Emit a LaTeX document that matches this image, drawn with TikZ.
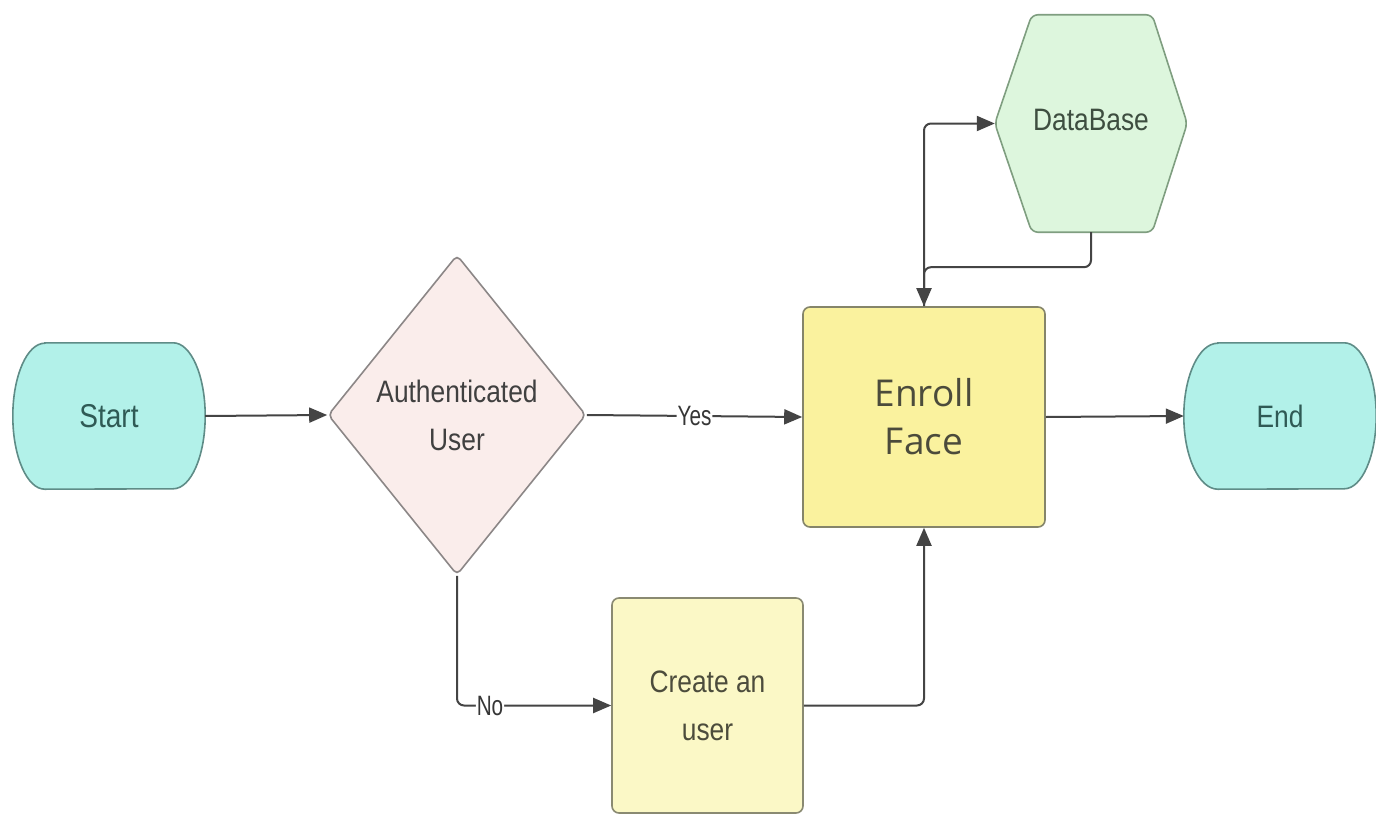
\documentclass[tikz,border=0pt]{standalone}
\usepackage{fontspec}
\usetikzlibrary{shapes.geometric,arrows.meta,backgrounds}
\newfontfamily\narrowsans[FakeStretch=0.85]{Liberation Sans}
\newfontfamily\labelsans[FakeStretch=0.74]{Liberation Sans}
\newfontfamily\widesans{Open Sans}
\definecolor{termfill}{HTML}{B2F1E9}
\definecolor{termdraw}{HTML}{5F8C87}
\definecolor{termtext}{HTML}{2F5A55}
\definecolor{decfill}{HTML}{FAEDEB}
\definecolor{decdraw}{HTML}{8C8787}
\definecolor{dectext}{HTML}{404040}
\definecolor{enrfill}{HTML}{FAF29E}
\definecolor{enrdraw}{HTML}{85856A}
\definecolor{enrtext}{HTML}{4B4B3B}
\definecolor{crefill}{HTML}{FBF8C6}
\definecolor{credraw}{HTML}{8A8A72}
\definecolor{cretext}{HTML}{4C4C3C}
\definecolor{dbfill}{HTML}{DDF6DD}
\definecolor{dbdraw}{HTML}{7F9E80}
\definecolor{dbtext}{HTML}{3E4E40}
\definecolor{linecol}{HTML}{444444}
\tikzset{
  termbox/.style={rectangle, minimum width=192pt, minimum height=146pt, inner sep=0pt,
    text=termtext, font=\narrowsans\fontsize{33}{48}\selectfont},
  termshape/.style={fill=termfill, draw=termdraw, line width=1.6pt},
  decbox/.style={diamond, fill=decfill, draw=decdraw, line width=1.6pt, rounded corners=5pt, inner sep=0pt,
    minimum width=258pt, minimum height=320pt, align=center, text=dectext, font=\narrowsans\fontsize{31}{48}\selectfont},
  enrbox/.style={rectangle, rounded corners=7pt, fill=enrfill, draw=enrdraw, line width=1.6pt,
    minimum width=242pt, minimum height=220pt, align=center, text=enrtext, font=\widesans\fontsize{37}{48}\selectfont},
  crebox/.style={rectangle, rounded corners=7pt, fill=crefill, draw=credraw, line width=1.6pt,
    minimum width=191pt, minimum height=215pt, align=center, text=cretext, font=\narrowsans\fontsize{31}{48}\selectfont},
  dbbox/.style={rectangle, minimum width=192pt, minimum height=217pt, inner sep=0pt},
  dbshape/.style={fill=dbfill, draw=dbdraw, line width=1.6pt, rounded corners=6pt},
  conn/.style={draw=linecol, line width=2pt, rounded corners=7pt, -{Triangle[length=18pt,width=15pt]}},
  lbl/.style={fill=white, inner sep=1pt, text=linecol!80!black, font=\labelsans\fontsize{28}{30}\selectfont},
}
\begin{document}
\begin{tikzpicture}[x=1pt,y=1pt]
\useasboundingbox (0,0) rectangle (1376,-816);

\node[termbox] (start) at (109,-416) {Start};
\node[decbox] (auth) at (457,-415) {Authenticated\\User};
\node[enrbox] (enroll) at (924,-417) {Enroll\\Face};
\node[termbox, font=\narrowsans\fontsize{31}{48}\selectfont] (end) at (1280,-416) {End};
\node[crebox] (create) at (707.5,-705.5) {Create an\\user};
\node[dbbox] (db) at (1091,-123.5) {};
\node[text=dbtext, font=\narrowsans\fontsize{31}{48}\selectfont] (dblabel) at (1091,-120) {DataBase};

\begin{pgfonlayer}{background}
\fill[white] (0,0) rectangle (1376,-816);
\path[dbshape]
  ([xshift=37pt]db.north west) -- ([xshift=-35pt]db.north east) -- (db.east)
  -- ([xshift=-35pt]db.south east) -- ([xshift=37pt]db.south west) -- (db.west) -- cycle;
\path[termshape] ([xshift=32pt]start.north west) -- ([xshift=-32pt]start.north east)
  arc[start angle=90, end angle=-90, x radius=32pt, y radius=73pt]
  -- ([xshift=32pt]start.south west)
  arc[start angle=270, end angle=90, x radius=32pt, y radius=73pt] -- cycle;
\path[termshape] ([xshift=34pt]end.north west) -- ([xshift=-32pt]end.north east)
  arc[start angle=90, end angle=-90, x radius=32pt, y radius=73pt]
  -- ([xshift=34pt]end.south west)
  arc[start angle=270, end angle=90, x radius=34pt, y radius=73pt] -- cycle;
\end{pgfonlayer}

\draw[conn] (start.east) -- (auth.west);
\draw[conn] (auth.east) -- node[lbl]{Yes} (enroll.west);
\draw[conn] (auth.south) |- node[lbl, pos=0.607]{No} (create.west);
\draw[conn] (create.east) -| (enroll.south);
\draw[conn] (enroll.east) -- (end.west);
\draw[conn] (enroll.north) |- (db.west);
\draw[conn] (db.south) -- ++(0,-35) -| (enroll.north);
\end{tikzpicture}
\end{document}
